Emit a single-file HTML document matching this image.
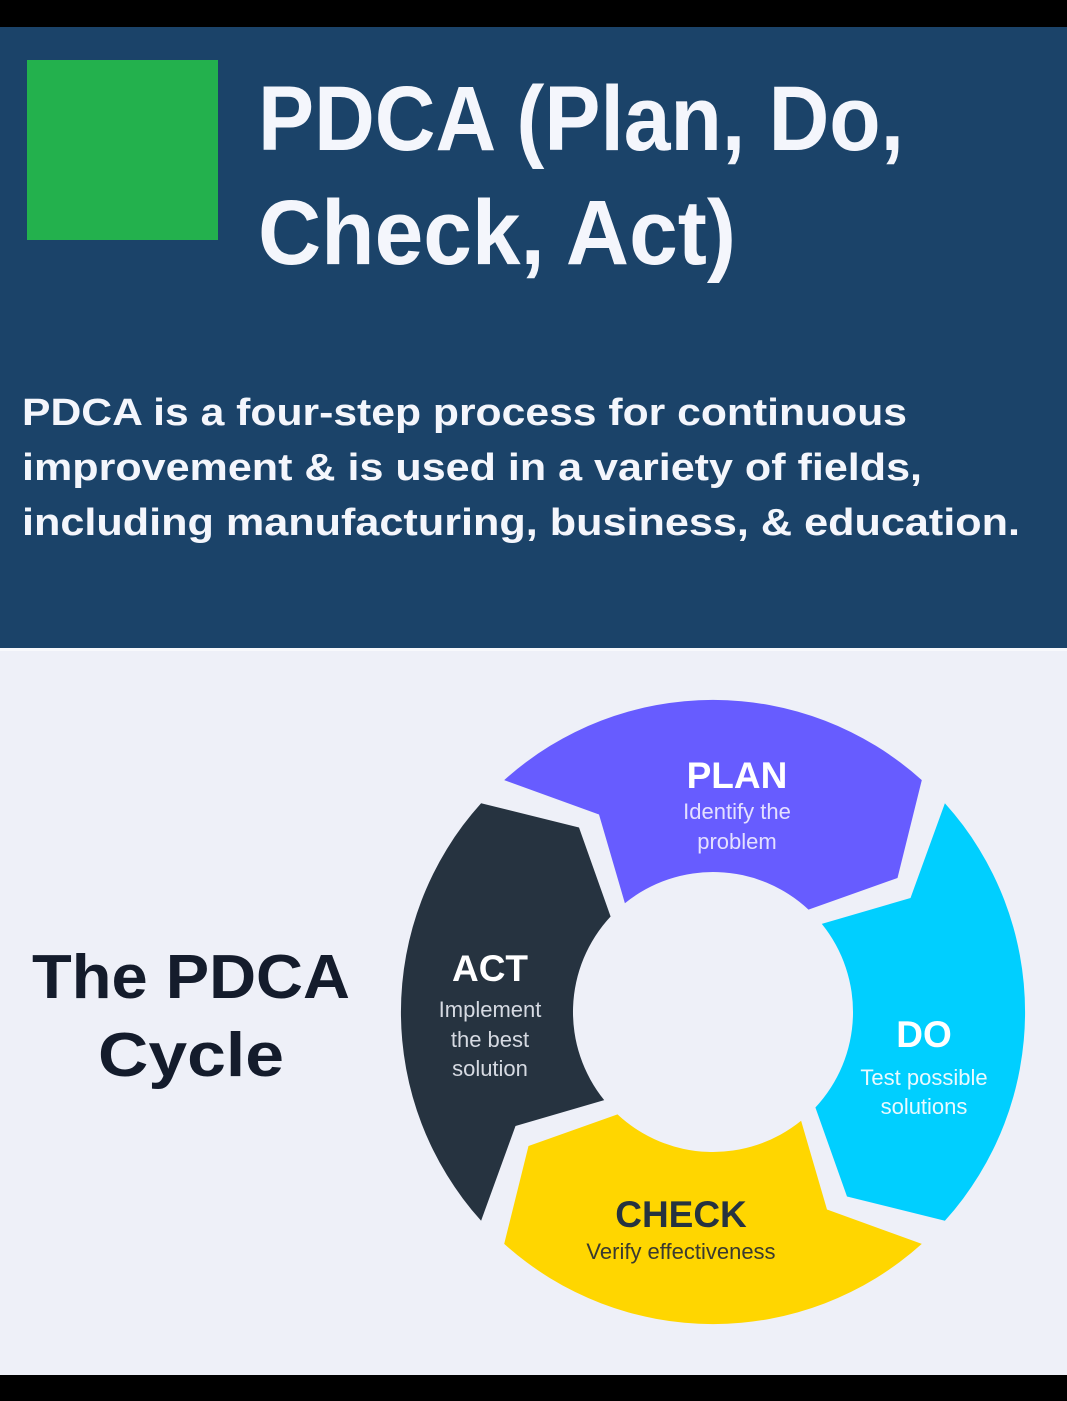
<!DOCTYPE html>
<html><head><meta charset="utf-8"><style>
html,body{margin:0;padding:0;width:1067px;height:1401px;overflow:hidden;background:#000}
svg{display:block}
</style></head><body>
<svg width="1067" height="1401" viewBox="0 0 1067 1401" xmlns="http://www.w3.org/2000/svg" font-family="'Liberation Sans', sans-serif">
<rect x="0" y="0" width="1067" height="1401" fill="#000"/>
<rect x="0" y="27" width="1067" height="621" fill="#1b4369"/>
<rect x="0" y="648" width="1067" height="3" fill="#f8f9fc"/>
<rect x="0" y="651" width="1067" height="724" fill="#eef0f8"/>
<rect x="27" y="60" width="191" height="180" fill="#23b14d"/>
<g fill="#f4f6fc" font-weight="bold">
<text x="258" y="150" font-size="92" textLength="646" lengthAdjust="spacingAndGlyphs">PDCA (Plan, Do,</text>
<text x="258" y="264" font-size="92" textLength="478" lengthAdjust="spacingAndGlyphs">Check, Act)</text>
<text x="22" y="425" font-size="38" textLength="885" lengthAdjust="spacingAndGlyphs">PDCA is a four-step process for continuous</text>
<text x="22" y="480" font-size="38" textLength="900" lengthAdjust="spacingAndGlyphs">improvement &amp; is used in a variety of fields,</text>
<text x="22" y="535" font-size="38" textLength="998" lengthAdjust="spacingAndGlyphs">including manufacturing, business, &amp; education.</text>
</g>
<g fill="#141c2c" font-weight="bold" text-anchor="middle">
<text x="191" y="998" font-size="62" textLength="318" lengthAdjust="spacingAndGlyphs">The PDCA</text>
<text x="191" y="1076" font-size="62" textLength="186" lengthAdjust="spacingAndGlyphs">Cycle</text>
</g>
<g>
<path d="M504.2,780.1 A312,312 0 0 1 921.8,780.1 L897.5,878 L808.5,909.6 A140,140 0 0 0 624.9,903.2 L599,814.5 Z" fill="#675cff"/>
<path d="M504.2,780.1 A312,312 0 0 1 921.8,780.1 L897.5,878 L808.5,909.6 A140,140 0 0 0 624.9,903.2 L599,814.5 Z" fill="#00cfff" transform="rotate(90 713 1012)"/>
<path d="M504.2,780.1 A312,312 0 0 1 921.8,780.1 L897.5,878 L808.5,909.6 A140,140 0 0 0 624.9,903.2 L599,814.5 Z" fill="#ffd600" transform="rotate(180 713 1012)"/>
<path d="M504.2,780.1 A312,312 0 0 1 921.8,780.1 L897.5,878 L808.5,909.6 A140,140 0 0 0 624.9,903.2 L599,814.5 Z" fill="#263340" transform="rotate(270 713 1012)"/>
</g>
<g text-anchor="middle">
<text x="737" y="788" font-size="37" font-weight="bold" fill="#fff">PLAN</text>
<text x="737" y="819" font-size="22" fill="#e4e0ff">Identify the</text>
<text x="737" y="849" font-size="22" fill="#e4e0ff">problem</text>
<text x="490" y="981" font-size="37" font-weight="bold" fill="#fff">ACT</text>
<text x="490" y="1017" font-size="22" fill="#d6dae2">Implement</text>
<text x="490" y="1047" font-size="22" fill="#d6dae2">the best</text>
<text x="490" y="1076" font-size="22" fill="#d6dae2">solution</text>
<text x="924" y="1047" font-size="37" font-weight="bold" fill="#fff">DO</text>
<text x="924" y="1085" font-size="22" fill="#eafaff">Test possible</text>
<text x="924" y="1114" font-size="22" fill="#eafaff">solutions</text>
<text x="681" y="1227" font-size="37" font-weight="bold" fill="#263340">CHECK</text>
<text x="681" y="1259" font-size="22" fill="#3a3a30">Verify effectiveness</text>
</g>
</svg>
</body></html>
